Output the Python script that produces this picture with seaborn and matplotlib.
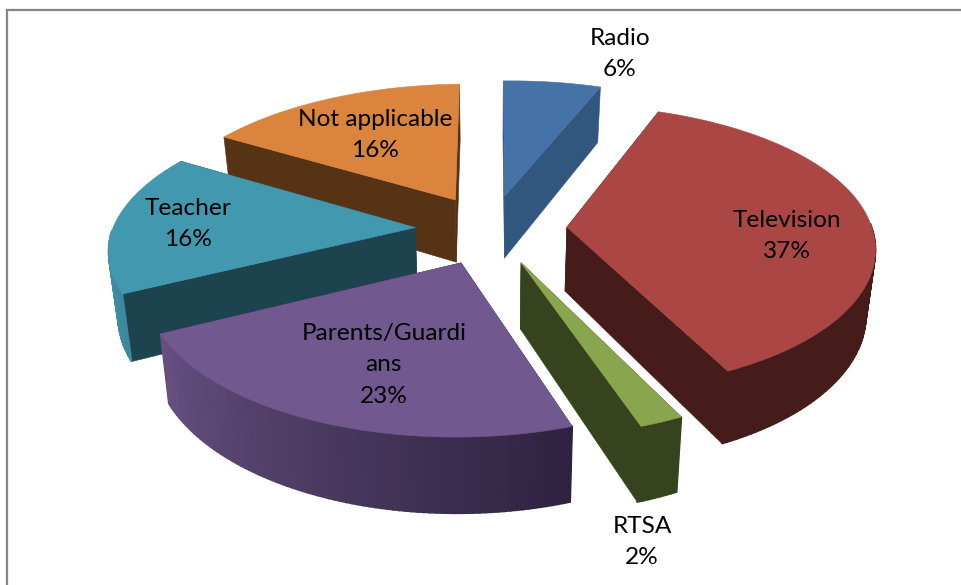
import numpy as np
import seaborn as sns
import matplotlib.pyplot as plt

categories = ["Radio", "Television", "RTSA", "Parents/Guardians", "Teacher", "Not applicable"]
values = [6, 37, 2, 23, 16, 16]
wrapped = ["Radio", "Television", "RTSA", "Parents/Guardi\nans", "Teacher", "Not applicable"]

top_colors = ["#4572A7", "#AA4643", "#89A54E", "#71588F", "#4198AF", "#DB843D"]
cut_colors = ["#32577F", "#451C1A", "#37431E", "#2E2240", "#1D434F", "#573316"]
wall_left = ["#32577F", "#451C1A", "#37431E", "#665181", "#3F93AA", "#BF7335"]
wall_right = ["#32577F", "#451C1A", "#37431E", "#2E2240", "#3A8096", "#573316"]

# pie geometry, in pixels of the picture
cx, cy = 491, 229
rx, ry, ry_back = 304, 142, 138
explode = 0.25
persp = 0.13
depth = 64
shrink = 0.975
skew = 5
tilt = 3
label_xy = [(620, 54), (787, 236), (642, 542), (384, 365), (188, 224), (375, 135)]
draw_order = [0, 5, 4, 1, 2, 3]


def project(u, v, bottom=False):
    s = 1 / (1 + persp * v)
    x = cx + rx * u * s + skew * np.maximum(-v, 0)
    y = cy - np.where(v > 0, ry_back, ry) * v * s - tilt * u
    if bottom:
        x = cx + (x - cx) * shrink
        y = y + depth * s
    return x, y


sns.set_theme(style="white")
fig = plt.figure(figsize=(9.62, 5.85), dpi=100)
ax = fig.add_axes([7.5 / 962, 0, 954.5 / 962, 575 / 585])
ax.set_xlim(7.5, 962)
ax.set_ylim(585, 10)
ax.set_xticks([])
ax.set_yticks([])
sns.despine(ax=ax, top=False, right=True, left=False, bottom=True)
for side in ["left", "top"]:
    ax.spines[side].set_color("#868686")
    ax.spines[side].set_linewidth(1.6)

edges = np.cumsum([0] + values) / sum(values) * 2 * np.pi

for n, i in enumerate(draw_order):
    a0, a1 = edges[i], edges[i + 1]
    mid = (a0 + a1) / 2
    ox, oy = explode * np.sin(mid), explode * np.cos(mid)
    th = np.linspace(a0, a1, max(int(np.degrees(a1 - a0)), 4) + 1)
    u = ox + np.sin(th)
    v = oy + np.cos(th)

    # sides first, the ones further back before the nearer ones
    faces = []
    for a in (a0, a1):
        uu = np.array([ox, ox + np.sin(a)])
        vv = np.array([oy, oy + np.cos(a)])
        x1, y1 = project(uu, vv)
        x2, y2 = project(uu, vv, bottom=True)
        faces.append((vv.mean(), np.r_[x1, x2[::-1]], np.r_[y1, y2[::-1]], cut_colors[i], 0.4))
    shades = sns.blend_palette([wall_left[i], wall_right[i]], len(th) - 1)
    xs1, ys1 = project(u, v)
    xs2, ys2 = project(u, v, bottom=True)
    order = np.argsort(xs1[:-1] + xs1[1:])
    for rank, k in enumerate(order):
        # back of the rim is hidden by the top
        if np.cos(th[k:k + 2].mean()) > 0:
            continue
        faces.append((v[k:k + 2].mean(),
                      [xs1[k], xs1[k + 1], xs2[k + 1], xs2[k]],
                      [ys1[k], ys1[k + 1], ys2[k + 1], ys2[k]],
                      shades[rank], 1.2))
    faces.sort(key=lambda f: -f[0])
    for _, fx, fy, col, lw in faces:
        ax.fill(fx, fy, color=col, lw=lw, zorder=2 + n)

    tx, ty = project(np.r_[ox, u], np.r_[oy, v])
    ax.fill(tx, ty, color=top_colors[i], lw=0.4, zorder=2.5 + n)

for name, val, (lx, ly) in zip(wrapped, values, label_xy):
    ax.text(lx, ly, f"{name}\n{val}%", ha="center", va="center", family="Lato",
            fontsize=17.6, color="black", linespacing=1.62, zorder=20)

fig.savefig("out.png", dpi=100)
